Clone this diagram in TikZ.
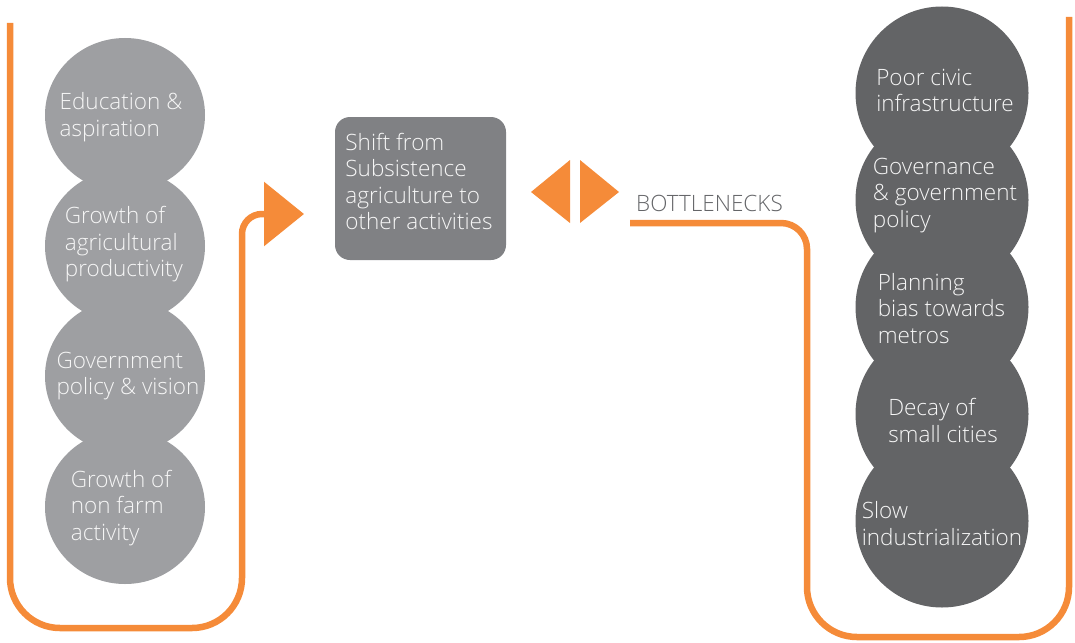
\documentclass[tikz,border=0pt]{standalone}
\usepackage{fontspec}
\setmainfont{Open Sans}[UprightFont=* Light]
\usetikzlibrary{shapes.geometric,arrows.meta}

\definecolor{orng}{RGB}{245,139,57}
\definecolor{lgray}{RGB}{158,159,162}
\definecolor{dgray}{RGB}{99,100,102}
\definecolor{bgray}{RGB}{128,129,132}
\definecolor{capgray}{RGB}{100,101,104}
\definecolor{ballwhite}{RGB}{246,246,246}

\tikzset{
  lball/.style={ellipse,fill=lgray,minimum width=160pt,minimum height=154pt,inner sep=0pt},
  rball/.style={circle,fill=dgray,minimum size=173pt,inner sep=0pt},
  balltext/.style={text=ballwhite,align=left,inner sep=0pt,font=\fontsize{22.5}{26.5}\selectfont},
  loop/.style={draw=orng,line width=6.5pt,rounded corners=50pt},
}

\begin{document}
\begin{tikzpicture}[x=1pt,y=-1pt]
\useasboundingbox (0,0) rectangle (1075,642);

\foreach \n/\y in {1/115,2/246,3/376,4/507}
  \node[lball] (l\n) at (125,\y) {};
\foreach \n/\y in {1/93,2/200,3/307,4/414,5/521}
  \node[rball] (r\n) at (942,\y) {};

\node[balltext] (tl1) at (121,117) {Education \&\\aspiration};
\node[balltext] (tl2) at (124,244.5) {Growth of\\agricultural\\productivity};
\node[balltext] (tl3) at (128,376) {Government\\policy \& vision};
\node[balltext] (tl4) at (121,508) {Growth of\\non farm\\activity};

\node[balltext] (tr1) at (945,90.5) {Poor civic\\infrastructure};
\node[balltext] (tr2) at (945,195.5) {Governance\\\& government\\policy};
\node[balltext] (tr3) at (941.5,308.5) {Planning\\bias towards\\metros};
\node[balltext] (tr4) at (943,420.5) {Decay of\\small cities};
\node[balltext] (tr5) at (942,523.5) {Slow\\industrialization};

\node[fill=bgray,rounded corners=15pt,minimum width=171pt,minimum height=143pt] (shift) at (420.5,188.5) {};
\node[balltext] (shifttext) at (419,181.5) {Shift from\\Subsistence\\agriculture to\\other activities};

\node[text=capgray,inner sep=0pt,font=\fontsize{22.5}{26.5}\selectfont] (bottle) at (709.5,203.5) {BOTTLENECKS};

\fill[orng] (531,192) -- (570,160) -- (570,223) -- cycle;
\fill[orng] (619,192) -- (580,160) -- (580,223) -- cycle;

\coordinate (lstart) at (10,23);
\coordinate (ltip) at (304,214);
\draw[loop,-{Triangle[length=40pt,width=63pt]}] (lstart) -- (10,628) -- (242,628) -- (242,400)
  [rounded corners=20pt] -- (242,214) -- (ltip);

\coordinate (rstart) at (630,223);
\coordinate (rend) at (1069,17);
\draw[loop,rounded corners=26pt] (rstart) -- (807,223) -- (807,400)
  [rounded corners=50pt] -- (807,637) -- (1069,637) -- (rend);
\end{tikzpicture}
\end{document}
